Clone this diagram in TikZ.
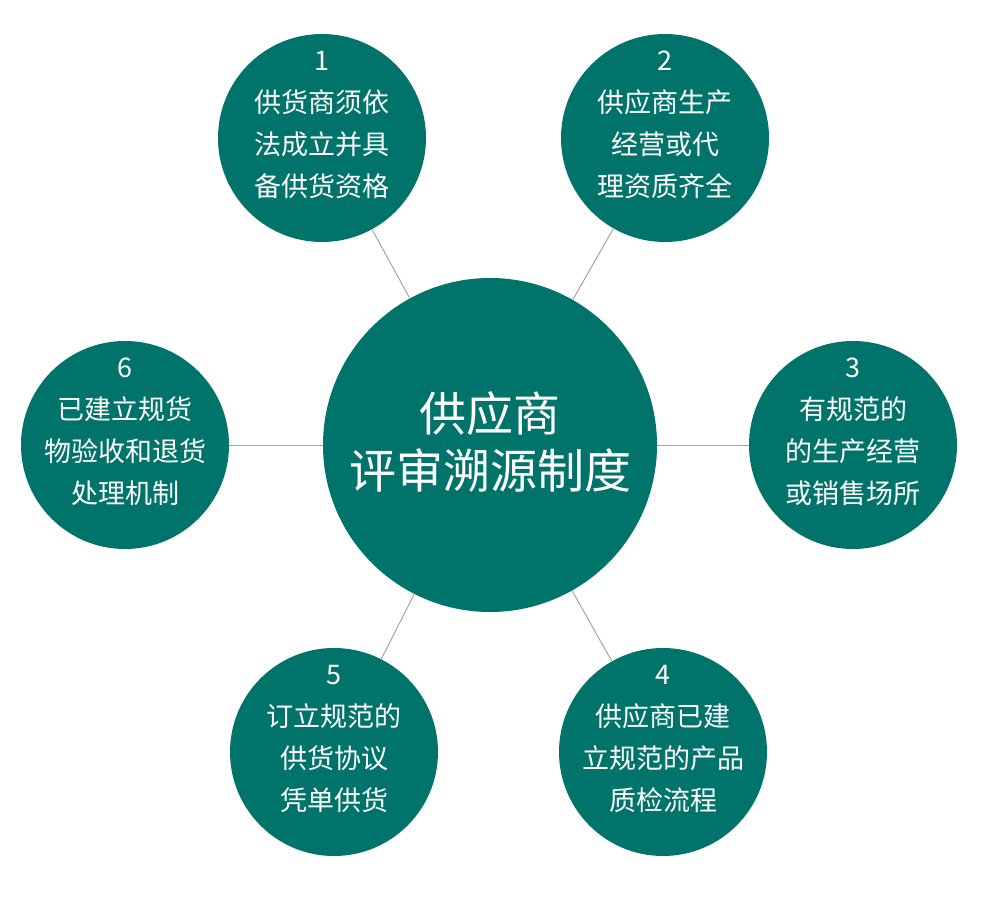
\documentclass[tikz,border=0pt]{standalone}
\usepackage{fontspec}
\setmainfont{Noto Sans CJK SC}
\definecolor{sgreen}{HTML}{00736B}
\definecolor{linegrey}{HTML}{A3A3A3}
\begin{document}
\begin{tikzpicture}[x=1pt,y=-1pt,
  hub/.style={circle, fill=sgreen, minimum size=334pt, inner sep=0pt},
  sat/.style={circle, fill=sgreen, minimum size=208pt, inner sep=0pt},
  txt/.style={text=white, align=center, font=\fontsize{27}{42}\selectfont},
  hubtxt/.style={text=white, align=center, font=\fontsize{47}{57}\selectfont},
  link/.style={draw=linegrey, line width=1pt}]
\useasboundingbox (0,0) rectangle (990,909);
\node[hub] (hub) at (490,445){};
\node[sat] (s1) at (322,138){};
\node[sat] (s2) at (665,138){};
\node[sat] (s3) at (853,445){};
\node[sat] (s4) at (663,752){};
\node[sat] (s5) at (334,752){};
\node[sat] (s6) at (125,445){};
\draw[link](hub) -- (s1);
\draw[link](hub) -- (s2);
\draw[link](hub) -- (s3);
\draw[link](hub) -- (s4);
\draw[link](hub) -- (s5);
\draw[link](hub) -- (s6);
\node[hubtxt] (thub) at (490,442){供应商\\评审溯源制度};
\node[txt] (t1) at (322,125){1\\供货商须依\\法成立并具\\备供货资格};
\node[txt] (t2) at (665,125){2\\供应商生产\\经营或代\\理资质齐全};
\node[txt] (t3) at (853,432){3\\有规范的\\的生产经营\\或销售场所};
\node[txt] (t4) at (663,739){4\\供应商已建\\立规范的产品\\质检流程};
\node[txt] (t5) at (334,739){5\\订立规范的\\供货协议\\凭单供货};
\node[txt] (t6) at (125,432){6\\已建立规货\\物验收和退货\\处理机制};
\end{tikzpicture}
\end{document}
